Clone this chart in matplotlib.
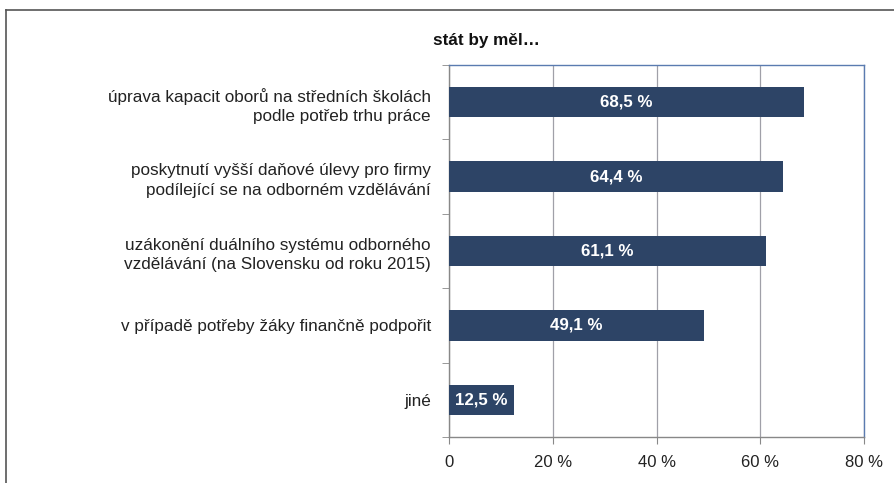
import matplotlib
matplotlib.use("Agg")
import matplotlib.pyplot as plt
from matplotlib.lines import Line2D

categories = [
    "úprava kapacit oborů na středních školách\npodle potřeb trhu práce",
    "poskytnutí vyšší daňové úlevy pro firmy\npodílející se na odborném vzdělávání",
    "uzákonění duálního systému odborného\nvzdělávání (na Slovensku od roku 2015)",
    "v případě potřeby žáky finančně podpořit",
    "jiné",
]
values = [68.5, 64.4, 61.1, 49.1, 12.5]
value_labels = ["68,5 %", "64,4 %", "61,1 %", "49,1 %", "12,5 %"]
xticks = [0, 20, 40, 60, 80]
xtick_labels = ["0", "20 %", "40 %", "60 %", "80 %"]
title = "stát by měl…"

plt.rcParams['font.family'] = ['Liberation Sans', 'DejaVu Sans']

fig = plt.figure(figsize=(8.95, 4.83), dpi=100)
ax = fig.add_axes([0.5017, 0.0952, 0.4637, 0.7702])

bar_color = "#2d4466"
n = len(categories)
ypos = list(range(n))
ax.barh(ypos, values, height=0.41, color=bar_color, zorder=3)
for y, v, lab in zip(ypos, values, value_labels):
    ax.text(v / 2, y, lab, ha="center", va="center", color="white",
            fontsize=12.2, fontweight="bold", zorder=4)

ax.set_xlim(0, 80)
ax.set_ylim(n - 0.5, -0.5)
ax.set_xticks(xticks)
ax.set_xticklabels(xtick_labels, fontsize=12, color="#222222")
ax.set_yticks(ypos)
ax.set_yticklabels(categories, fontsize=12.3, color="#222222", linespacing=1.4)
ax.tick_params(axis="y", length=0, pad=13)
ax.set_yticks([i + 0.5 for i in range(-1, n)], minor=True)
ax.tick_params(axis="y", which="minor", length=5, color="#888888")
ax.tick_params(axis="x", length=5, color="#888888", pad=8)

ax.grid(axis="x", color="#a0a0a8", linewidth=0.9, zorder=0)
for s in ["top", "right"]:
    ax.spines[s].set_color("#5a7bb0")
    ax.spines[s].set_linewidth(1.0)
for s in ["left", "bottom"]:
    ax.spines[s].set_color("#888888")
    ax.spines[s].set_linewidth(1.0)

fig.text(0.543, 0.917, title, ha="center", va="center", fontsize=12.3,
         fontweight="bold", color="#111111")

# outer frame (partially visible)
fig.add_artist(Line2D([6 / 895, 6 / 895], [0, 1 - 10 / 483], transform=fig.transFigure,
                      color="#555555", linewidth=1.2))
fig.add_artist(Line2D([6 / 895, 1], [1 - 10 / 483, 1 - 10 / 483], transform=fig.transFigure,
                      color="#555555", linewidth=1.2))

fig.savefig("out.png", dpi=100)
